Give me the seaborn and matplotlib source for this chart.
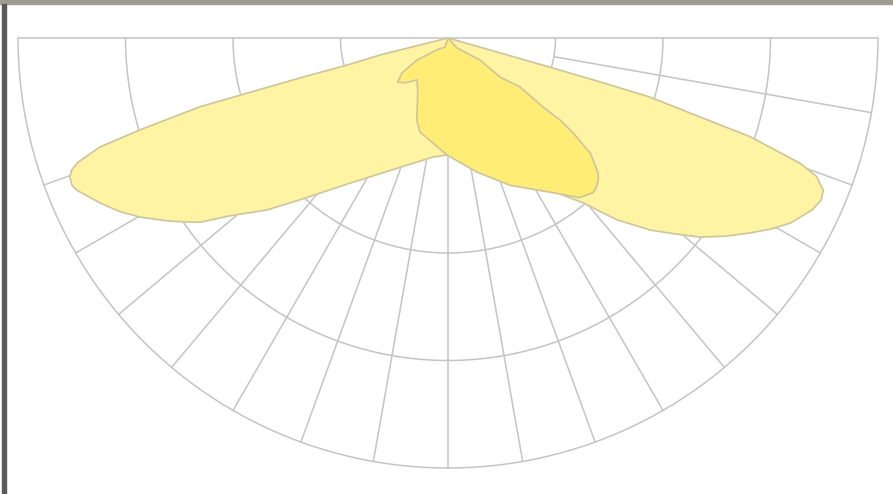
import numpy as np
import matplotlib
matplotlib.use("Agg")
import matplotlib.pyplot as plt
from matplotlib.patches import Rectangle
import seaborn as sns

# lobe outlines: angle from nadir (deg, + = right), intensity (% of outer ring)
pale_angle = [-76, -76, -75, -74.9, -74.5, -73.4, -72.6, -71.4, -70.7, -69.8, -68.6, -67.7,
              -64.6, -62.1, -59.8, -56.6, -53.4, -50.8, -46.5, -42.4, -34, -20.4, -7.2, 0,
              10, 20, 30, 39.3, 42.9, 46.5, 49.2, 51.7, 54.4, 57.1, 59.3, 61.6, 64.8, 66.5,
              67.9, 68.6, 69.4, 70.4, 71.1, 71.9, 72.6, 73.7, 73.9, 74, 74, 74]
pale_value = [0, 16, 24, 35.6, 59.8, 74.7, 84.9, 90.9, 92.7, 93.7, 93.9, 93.3,
              89.5, 86.3, 82.8, 77.4, 71.9, 65.4, 58.1, 50.9, 40.7, 32.1, 27.9, 27.2,
              28.5, 32.5, 39, 49.5, 57.7, 64.9, 69.7, 74.7, 79.2, 83.5, 87.1, 90.5, 93.7, 94.6,
              94.2, 92.9, 91.6, 87, 80.4, 74, 61.4, 48.8, 36.7, 24, 12, 0]

bright_angle = [0, -18, -42.5, -54.6, -52.7, -48.7, -43.7, -36.4, -28.6, -20.7, -16.6, -10,
                -0.5, 12.2, 22.9, 33.5, 39.5, 43.1, 44.6, 46.6, 48, 51, 52.8, 53.8, 54,
                55.8, 53.1, 55.5, 42, 0]
bright_value = [0, 2.2, 3.7, 8.8, 13.5, 15.6, 14.4, 12.1, 14.7, 20.5, 22.8, 24.2,
                27.2, 31.9, 37.2, 43, 48.1, 49.3, 49, 48.1, 47, 42.6, 36.5, 32.3, 27.2,
                20.2, 15.1, 9.1, 3.1, 0]

rings = [25, 50, 75, 100]
spokes = [-70, -60, -50, -40, -30, -20, -10, 0, 10, 20, 30, 40, 50, 60, 70, 80]

sns.set_style("white")
fig = plt.figure(figsize=(8.93, 4.94), dpi=100)
fig.patches.append(Rectangle((0, 1 - 4 / 494), 1, 4 / 494, transform=fig.transFigure,
                             color="#9c9c90", zorder=0))
fig.patches.append(Rectangle((2 / 893, 0), 4 / 893, 1 - 4 / 494, transform=fig.transFigure,
                             color="#5a5a5a", zorder=0))

# full-circle box centred on the pole, only the lower half is used
ax = fig.add_axes([18 / 893, 26 / 494, 860 / 893, 860 / 494], projection="polar")
ax.set_theta_zero_location("S")
ax.set_rlim(0, 100)
ax.set_axis_off()

grid_kw = dict(color="#c4c4c4", lw=1.1, zorder=1, clip_on=False)
th = np.radians(np.linspace(-90, 90, 361))
for r in rings:
    ax.plot(th, np.full_like(th, r), **grid_kw)
for a in spokes:
    ax.plot([np.radians(a)] * 2, [25, 100], **grid_kw)
for a in [-90, 90]:
    ax.plot([np.radians(a)] * 2, [0, 100], **grid_kw)

for ang, val, face, z in [(pale_angle, pale_value, "#fff4a4", 2),
                          (bright_angle, bright_value, "#ffed75", 4)]:
    t = np.radians(ang)
    ax.fill(t, val, color=face, zorder=z, clip_on=False)
    sns.lineplot(x=t, y=val, sort=False, estimator=None, ax=ax, color="#cdc59e",
                 lw=1.2, zorder=z + 1, clip_on=False)

ax.set_rlim(0, 100)
fig.savefig("out.png", dpi=100)
